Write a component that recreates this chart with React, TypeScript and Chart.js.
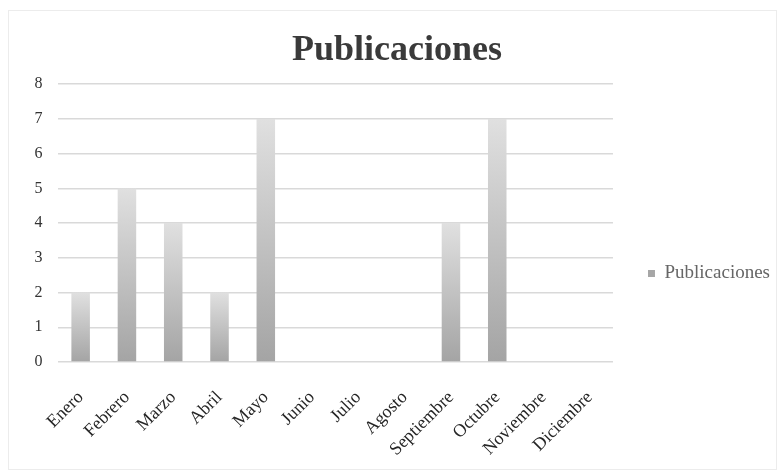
import React, { useEffect, useRef } from "react";
import { Chart, registerables } from "chart.js";

Chart.register(...registerables);

const categories = [
  "Enero", "Febrero", "Marzo", "Abril", "Mayo", "Junio",
  "Julio", "Agosto", "Septiembre", "Octubre", "Noviembre", "Diciembre",
];
const publicaciones = [2, 5, 4, 2, 7, 0, 0, 0, 4, 7, 0, 0];
const seriesName = "Publicaciones";
const titleText = "Publicaciones";

export default function App() {
  const ref = useRef<HTMLCanvasElement | null>(null);

  useEffect(() => {
    if (!ref.current) return;
    const chart = new Chart(ref.current, {
      type: "bar",
      data: {
        labels: categories,
        datasets: [
          {
            label: seriesName,
            data: publicaciones,
            backgroundColor: (ctx: any) => {
              const c = ctx.chart;
              const ys = c.scales?.y;
              if (!ys || ctx.type !== "data") return "#b0b0b0";
              const v = ctx.parsed?.y ?? 0;
              const top = ys.getPixelForValue(v);
              const bot = ys.getPixelForValue(0);
              if (!isFinite(top) || !isFinite(bot) || top === bot) return "#b0b0b0";
              const g = c.ctx.createLinearGradient(0, top, 0, bot);
              g.addColorStop(0, "#e0e0e0");
              g.addColorStop(1, "#a4a4a4");
              return g;
            },
            borderWidth: 0,
            categoryPercentage: 1,
            barPercentage: 0.4,
          },
        ],
      },
      options: {
        animation: false,
        responsive: false,
        devicePixelRatio: 1,
        layout: { padding: { left: 14, right: 0, top: 0, bottom: 0 } },
        plugins: {
          title: {
            display: true,
            text: titleText,
            color: "#3a3a3a",
            font: { family: "'Liberation Serif', serif", size: 36, weight: "bold", lineHeight: 1.2 },
            padding: { top: 29, bottom: 12 },
          },
          legend: {
            display: true,
            position: "right",
            title: {
              display: true,
              text: "",
              font: { size: 12, lineHeight: 1.2 },
              padding: { top: 59.6, bottom: 0 },
            },
            labels: {
              boxWidth: 7,
              boxHeight: 7,
              padding: 35,
              color: "#595959",
              font: { family: "'Liberation Serif', serif", size: 19 },
              generateLabels: () => [
                {
                  text: seriesName,
                  fillStyle: "#a6a6a6",
                  strokeStyle: "#a6a6a6",
                  lineWidth: 0,
                  datasetIndex: 0,
                  hidden: false,
                },
              ],
            },
          },
          tooltip: { enabled: false },
        },
        scales: {
          x: {
            grid: { display: false, drawTicks: false },
            border: { display: false },
            ticks: {
              autoSkip: false,
              minRotation: 45,
              maxRotation: 45,
              padding: 25,
              color: "#262626",
              font: { family: "'Liberation Serif', serif", size: 18 },
            },
            afterFit: (s: any) => {
              s.height = 111;
            },
          },
          y: {
            min: 0,
            max: 8,
            grid: { color: "#d9d9d9", lineWidth: 1.5, drawTicks: false },
            border: { display: false },
            ticks: {
              stepSize: 1,
              padding: 15,
              color: "#333333",
              font: { family: "'Liberation Serif', serif", size: 16 },
            },
            afterFit: (s: any) => {
              s.width = 43.5;
            },
          },
        },
      },
    });
    return () => chart.destroy();
  }, []);

  return (
    <div
      style={{
        position: "absolute",
        left: 0,
        top: 0,
        width: 780,
        height: 473,
        background: "#ffffff",
      }}
    >
      <div
        style={{
          position: "absolute",
          left: 8,
          top: 10,
          width: 769,
          height: 460,
          border: "1px solid #ececec",
          boxSizing: "border-box",
        }}
      />
      <canvas
        ref={ref}
        width={780}
        height={473}
        style={{ display: "block", position: "absolute", left: 0, top: 0 }}
      />
    </div>
  );
}
